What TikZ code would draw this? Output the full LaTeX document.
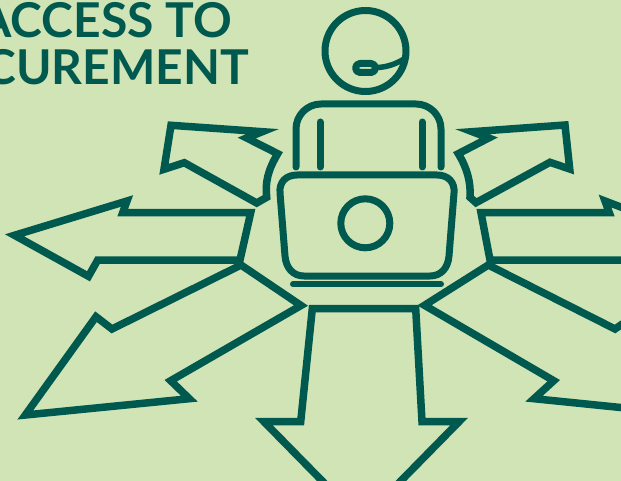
\documentclass[tikz,border=0pt]{standalone}
\usepackage{fontspec}
\setmainfont{Lato}
\definecolor{bgc}{HTML}{D1E4B6}
\definecolor{ink}{HTML}{00594F}
\tikzset{
  outline/.style={draw=ink,line width=7.5pt,line join=miter,miter limit=40},
  icon/.style={draw=ink,line width=7pt,line join=round,line cap=round},
  titletext/.style={text=ink,anchor=base east,inner sep=0pt,outer sep=0pt,font=\fontsize{48}{48}\selectfont\bfseries}
}
\begin{document}
\begin{tikzpicture}[x=1pt,y=-1pt]
\useasboundingbox (0,0) rectangle (621,481);
\clip (0,0) rectangle (621,481);
\fill[bgc] (0,0) rectangle (621,481);
% title
\node[titletext] (t1) at (232,37.5) {ACCESS TO};
\node[titletext] (t2) at (249,85) {CUREMENT};
% head and headset
\draw[icon] (365.5,51) circle[radius=40.5];
\draw[icon] (360,63.5) -- (371,63.5) arc[start angle=-90,end angle=90,radius=4.5] -- (360,72.5) arc[start angle=90,end angle=270,radius=4.5] -- cycle;
\draw[draw=ink,line width=5.5pt] (376,67.5) .. controls (386,67.5) and (396,64) .. (404,59);
% torso
\draw[icon] (296,167) -- (296,129) arc[start angle=180,end angle=270,radius=25] -- (416,104) arc[start angle=-90,end angle=0,radius=25] -- (441,167);
\draw[icon] (320,122) -- (320,167);
\draw[icon] (422,122) -- (422,167);
% laptop
\draw[icon] (297,175) -- (437,175) .. controls (448,175) and (455,182) .. (454,193)
  -- (449,256) .. controls (448,268) and (441,276) .. (430,276)
  -- (304,276) .. controls (293,276) and (286,268) .. (285,256)
  -- (280,193) .. controls (279,182) and (286,175) .. (297,175) -- cycle;
\draw[icon] (365.3,223.3) circle[radius=24.5];
\draw[icon,line width=6pt] (293,284.3) -- (441,284.3);
% arrows
\draw[outline] (171,125.3) -- (262.3,131.7) -- (246.7,138) -- (277.7,153.7) .. controls (268,170) and (265,182) .. (266.7,197.3) -- (256.7,203) -- (184.3,162.7) -- (164,169.3) -- cycle;
\draw[outline] (565,125) -- (472.3,131.7) -- (488.7,138) -- (458.3,153.7) .. controls (467,168) and (471,182) .. (470,197.3) -- (476,202.7) -- (550,162.3) -- (569.7,169) -- cycle;
\draw[outline] (250.7,212.7) -- (122.7,212.7) -- (127,201) -- (14.5,235.3) -- (88.5,276.3) -- (97.7,260) -- (240,260) -- cycle;
\draw[outline] (660,222) -- (605,201) -- (609.3,212.7) -- (481,212.7) -- (490,260) -- (660,260);
\draw[outline] (241,265) -- (112,329) -- (96,316.7) -- (25.3,415) -- (189.3,398.7) -- (170.7,380.7) -- (301,305.5) -- cycle;
\draw[outline] (660,411.5) -- (534,398.7) -- (553.7,380.7) -- (424.5,305.3) -- (488.3,265) -- (615,329) -- (633,316.7);
\draw[outline] (312.3,308.7) -- (415.7,308.7) -- (422,421.7) -- (459,421.7) -- (361.5,521) -- (264,421.7) -- (300.7,421.7) -- cycle;
\end{tikzpicture}
\end{document}
